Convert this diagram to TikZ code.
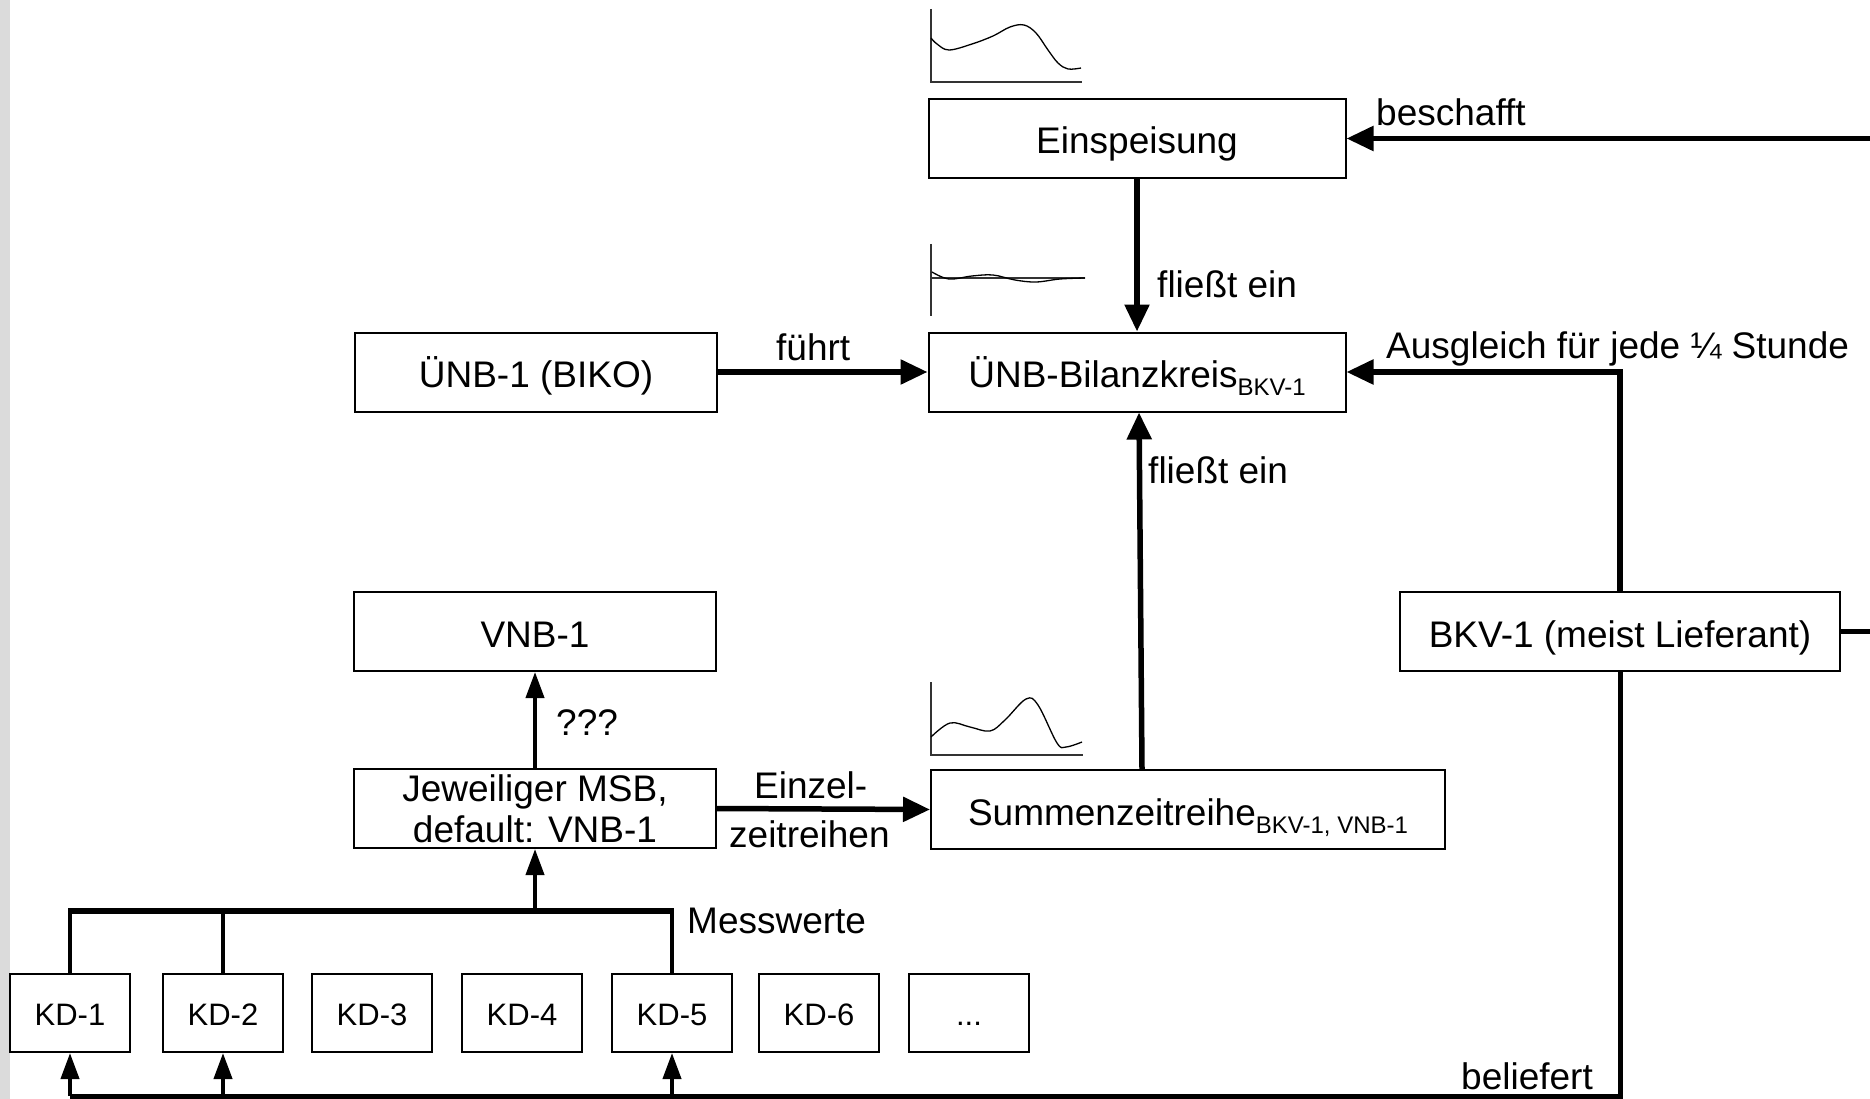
\documentclass[tikz,border=0pt]{standalone}
\usepackage{fontspec}
\setmainfont{Liberation Sans}
\usetikzlibrary{arrows.meta,calc}
\newcommand\subtxt[1]{\raisebox{-8pt}{\fontsize{24}{24}\selectfont #1}}
\begin{document}
\begin{tikzpicture}[x=1pt,y=-1pt,
  every node/.style={font=\fontsize{37}{40}\selectfont},
  box/.style={draw,line width=2pt,inner sep=0pt,align=center,minimum height=79pt,text height=31pt,text depth=0pt},
  kdbox/.style={draw,line width=2pt,inner sep=0pt,align=center,minimum width=120pt,minimum height=78pt,text height=24pt,text depth=0pt,font=\fontsize{31}{34}\selectfont},
  lbl/.style={anchor=base west,inner sep=0pt},
  arr/.style={line width=5.5pt,-{Triangle[length=27pt,width=24pt]}},
  tarr/.style={line width=4pt,-{Triangle[length=26pt,width=18pt]}},
  conn/.style={line width=5pt},
  tconn/.style={line width=4pt},
  chart/.style={line width=1.3pt},
  axis/.style={line width=1.2pt,black!80}]
\useasboundingbox (0,0) rectangle (1870,1099);
\fill[black!14] (0,0) rectangle (10,1099);

% boxes
\node[box,minimum width=417pt] (ein) at (1137,138.5) {Einspeisung};
\node[box,minimum width=417pt] (bil) at (1137,372) {ÜNB-Bilanzkreis\subtxt{BKV-1}};
\node[box,minimum width=362pt] (uenb) at (536,372) {ÜNB-1 (BIKO)};
\node[box,minimum width=362pt] (vnb) at (535,631.5) {VNB-1};
\node[box,minimum width=440pt] (bkv) at (1620,631.5) {BKV-1 (meist Lieferant)};
\node[draw,line width=2pt,inner sep=0pt,align=center,minimum height=79pt,minimum width=362pt,font=\fontsize{37}{41}\selectfont] (msb) at (535,808.5) {\raisebox{-2pt}{Jeweiliger MSB,}\\\raisebox{-2pt}{default: VNB-1}};
\node[box,minimum width=514pt] (sum) at (1188,809.5) {Summenzeitreihe\subtxt{BKV-1, VNB-1}};
\node[kdbox] (kd1) at (70,1013) {KD-1};
\node[kdbox] (kd2) at (223,1013) {KD-2};
\node[kdbox] (kd3) at (372,1013) {KD-3};
\node[kdbox] (kd4) at (522,1013) {KD-4};
\node[kdbox] (kd5) at (672,1013) {KD-5};
\node[kdbox] (kd6) at (819,1013) {KD-6};
\node[kdbox] (kd7) at (969,1013) {...};

% labels
\node[lbl] (l1) at (1376,126) {beschafft};
\node[lbl] (l2) at (1157,297) {fließt ein};
\node[lbl] (l3) at (776,360) {führt};
\node[lbl] (l4) at (1386,358) {Ausgleich für jede ¼ Stunde};
\node[lbl] (l5) at (1148,483) {fließt ein};
\node[lbl] (l6) at (556,735) {???};
\node[lbl] (l7) at (754,798) {Einzel-};
\node[lbl] (l8) at (729,847) {zeitreihen};
\node[lbl] (l9) at (687,933) {Messwerte};
\node[lbl] (l10) at (1461,1089) {beliefert};

% coordinates
\coordinate (rE) at (1870,138.5);
\coordinate (rB) at (1870,631.5);
\coordinate (bot) at (1620,1096);
\coordinate (bus) at (0,911);

% connectors
\draw[arr] (rE) -- (ein.east);
\draw[arr] (ein.south) -- (bil.north);
\draw[arr] (uenb.east) -- (bil.west);
\draw[arr] (bkv.north) |- (bil.east);
\draw[arr] ([xshift=-46pt]sum.north) -- ([xshift=2pt]bil.south);
\draw[conn] (bkv.east) -- (rB);
\draw[conn] (bkv.south) -- (bot) -- (kd1.south |- bot);
\draw[tarr] (kd1.south |- bot) -- (kd1.south);
\draw[tarr] (kd2.south |- bot) -- (kd2.south);
\draw[tarr] (kd5.south |- bot) -- (kd5.south);
\draw[tarr] (msb.north) -- (vnb.south);
\draw[arr] (msb.east) -- (sum.west);
\draw[line width=6pt] ([xshift=-2pt]kd1.north |- bus) -- ([xshift=2pt]kd5.north |- bus);
\draw[tconn] (kd1.north) -- (kd1.north |- bus);
\draw[tconn] (kd2.north) -- (kd2.north |- bus);
\draw[tconn] (kd5.north) -- (kd5.north |- bus);
\draw[tarr] (msb.south |- bus) -- (msb.south);

% charts
\draw[axis] (931,9) -- (931,82) -- (1082,82);
\draw[chart] plot[smooth,tension=0.6] coordinates {(931,38) (937,44) (949,50) (972,44) (993,36) (1010,27) (1024,25) (1036,33) (1048,50) (1058,63) (1068,69) (1081,68)};
\draw[axis] (931,244) -- (931,316);
\draw[axis] (931,278) -- (1085,278);
\draw[chart] plot[smooth,tension=0.6] coordinates {(932,272) (949,279) (972,276) (993,275) (1015,280) (1036,282) (1060,279) (1085,278)};
\draw[axis] (931,682) -- (931,755) -- (1083,755);
\draw[chart] plot[smooth,tension=0.6] coordinates {(931,737) (950,723) (970,727) (990,731) (1005,720) (1026,699) (1038,705) (1057,743) (1066,747) (1082,742)};
\end{tikzpicture}
\end{document}
